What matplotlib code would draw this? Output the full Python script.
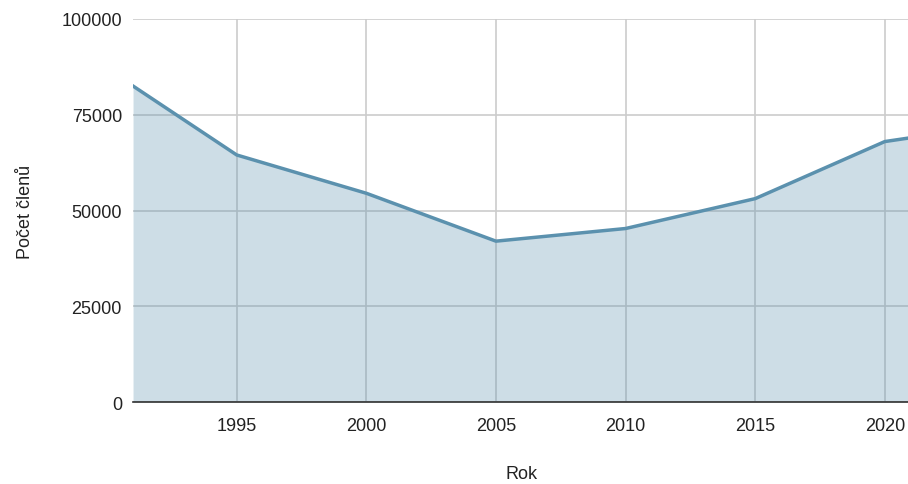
import numpy as np
import matplotlib.pyplot as plt

# Počet členů po letech
roky = [1991, 1995, 2000, 2005, 2010, 2015, 2020, 2021]
clenove = [82500, 64500, 54500, 42000, 45300, 53100, 68000, 69000]

x_ticks = [1995, 2000, 2005, 2010, 2015, 2020]
y_ticks = [0, 25000, 50000, 75000, 100000]

plt.rcParams['font.family'] = ['Liberation Sans', 'DejaVu Sans']

fig = plt.figure(figsize=(9.08, 4.85), dpi=100)
ax = fig.add_axes([0.1465, 0.169, 0.8535 + 0.003, 0.7898])

barva = '#5b91ae'
ax.fill_between(roky, clenove, 0, color=barva, alpha=0.3, linewidth=0, zorder=2)
ax.plot(roky, clenove, color=barva, linewidth=2.5, zorder=3, solid_joinstyle='round')

ax.set_xlim(1991, 2021)
ax.set_ylim(0, 100000)
ax.set_xticks(x_ticks)
ax.set_yticks(y_ticks)
ax.set_yticklabels([str(v) for v in y_ticks])

ax.grid(True, color='#cccccc', linewidth=1.2, zorder=1)
ax.set_axisbelow(True)
for s in ['top', 'right', 'left']:
    ax.spines[s].set_visible(False)
ax.spines['bottom'].set_color('#333333')
ax.spines['bottom'].set_linewidth(1.2)
ax.spines['bottom'].set_zorder(4)

ax.tick_params(length=0, labelsize=13, colors='#222222')
ax.tick_params(axis='x', pad=11)
ax.tick_params(axis='y', pad=8)

ax.set_xlabel('Rok', fontsize=13, labelpad=22, color='#222222')
ax.set_ylabel('Počet členů', fontsize=13, labelpad=20, color='#222222')

fig.savefig('out.png', dpi=100)
